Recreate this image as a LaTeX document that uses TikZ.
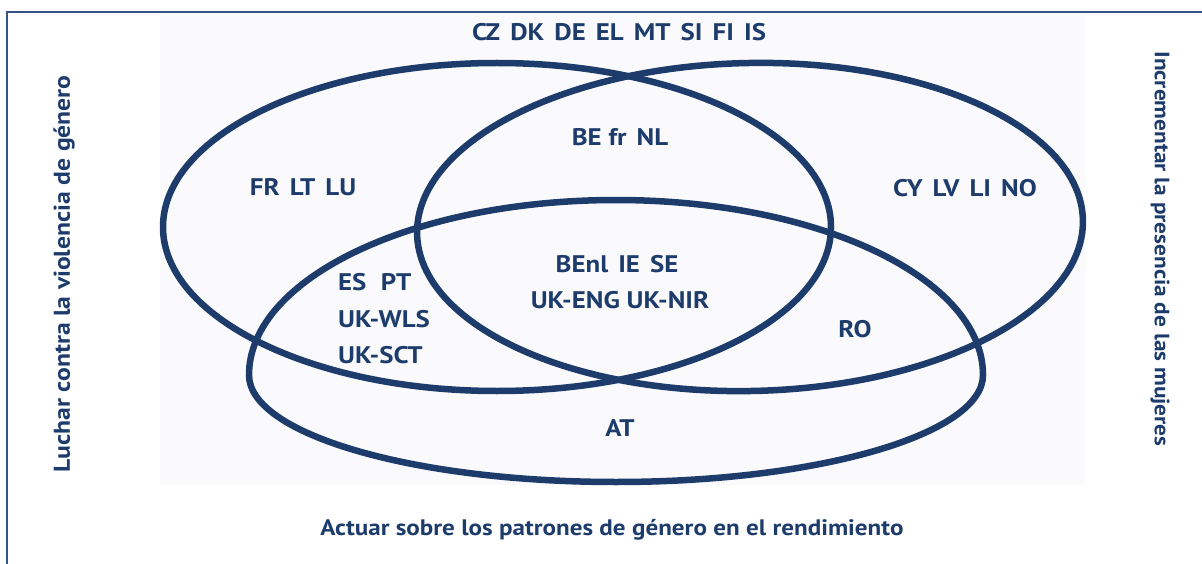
\documentclass[tikz,border=0pt]{standalone}
\usepackage{fontspec}
\setmainfont{PT Sans}
\newfontfamily\labfont[FakeStretch=1.12]{PT Sans}
\definecolor{navy}{RGB}{29,60,108}
\definecolor{framec}{RGB}{55,85,130}
\definecolor{bgray}{RGB}{250,250,252}
\newcommand{\gp}{\hspace{0.42em}}
\begin{document}
\begin{tikzpicture}[x=1pt,y=-1pt,
  ring/.style={draw=navy, line width=6.5pt},
  lab/.style={text=navy, font=\labfont\bfseries\fontsize{24}{24}\selectfont, inner sep=0pt},
  side/.style={text=navy, inner sep=0pt}]
\useasboundingbox (0,0) rectangle (1202,564);
\fill[bgray] (160,15) rectangle (1085,485);
\draw[framec, line width=1.5pt] (7,570) -- (7,12) -- (1210,12);
% circles
\draw[ring] (497,227) ellipse [x radius=334, y radius=164];
\draw[ring, rotate around={1.2:(750,227)}] (750,227) ellipse [x radius=333, y radius=164];
\draw[ring] (249,375) arc[start angle=180, end angle=360, x radius=367, y radius=175]
  arc[start angle=0, end angle=180, x radius=367, y radius=107] -- cycle;
% labels
\node[lab, anchor=base] (top) at (619,41) {CZ\gp DK\gp DE\gp EL\gp MT\gp SI\gp FI\gp IS};
\node[lab, anchor=base] (befr) at (620,146) {BE fr\gp NL};
\node[lab, anchor=base] (frlt) at (303,196) {FR\gp LT\gp LU};
\node[lab, anchor=base] (cylv) at (965,197) {CY\gp LV\gp LI\gp NO};
\node[lab, anchor=base] (benl) at (617,272) {BEnl\gp IE\gp SE};
\node[lab, anchor=base] (ukeng) at (620,308) {UK-ENG UK-NIR};
\node[lab, anchor=base west] (espt) at (338,290) {ES\hspace{0.6em}PT};
\node[lab, anchor=base west] (ukwls) at (338,327) {UK-WLS};
\node[lab, anchor=base west] (uksct) at (338,363) {UK-SCT};
\node[lab, anchor=base] (ro) at (855,337) {RO};
\node[lab, anchor=base] (at) at (620,436) {AT};
\node[side, anchor=base, font=\labfont\bfseries\fontsize{22.4}{22.4}\selectfont] (bottom) at (612,535) {Actuar sobre los patrones de género en el rendimiento};
\node[side, rotate=90, font=\labfont\bfseries\fontsize{22.9}{22.9}\selectfont] (left) at (64,274) {Luchar contra la violencia de género};
\node[side, rotate=-90, font=\labfont\bfseries\fontsize{20.8}{20.8}\selectfont] (right) at (1160,249) {Incrementar la presencia de las mujeres};
\end{tikzpicture}
\end{document}
